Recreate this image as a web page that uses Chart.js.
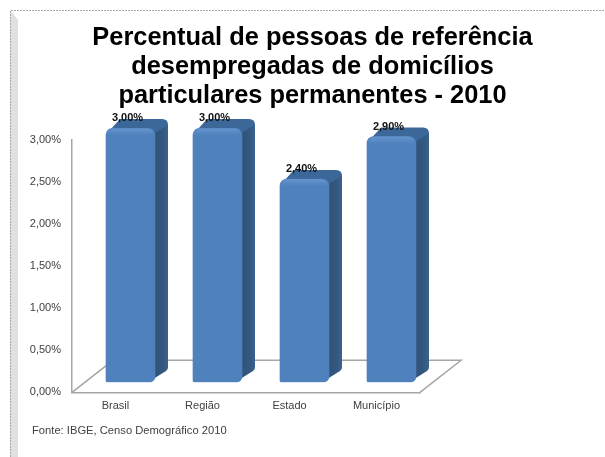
<!DOCTYPE html>
<html>
<head>
<meta charset="utf-8">
<title>Percentual de pessoas de referência</title>
<script src="https://cdn.jsdelivr.net/npm/chart.js@4"></script>
<style>
    html, body { margin: 0; padding: 0; background: #fff; }
    #wrap { width: 605px; height: 457px; }
</style>
</head>
<body>
<div id="wrap"><canvas id="chart" width="605" height="457"></canvas></div>
<script>
// Data
const categories = ['Brasil', 'Região', 'Estado', 'Município'];
const values = [3.0, 3.0, 2.4, 2.9];
const valueLabels = ['3,00%', '3,00%', '2,40%', '2,90%'];
const yTickLabels = ['0,00%', '0,50%', '1,00%', '1,50%', '2,00%', '2,50%', '3,00%'];
const titleLines = ['Percentual de pessoas de referência', 'desempregadas de domicílios', 'particulares permanentes - 2010'];
const sourceText = 'Fonte: IBGE, Censo Demográfico 2010';

const FONT = '"Liberation Sans", Arial, sans-serif';

// The 3D look: bars are pushed back into the floor, with a side and top face
const shiftX = 15;
const shiftY = -10;
const depthX = 13;
const depthY = -9;
const stretchY = 1.008; // perspective makes the bars a little taller than the axis

// slide frame behind everything
const framePlugin = {
    id: 'frame',
    beforeDraw(chart) {
        const ctx = chart.ctx;
        ctx.save();
        ctx.fillStyle = '#ffffff';
        ctx.fillRect(0, 0, 605, 457);
        ctx.fillStyle = '#e0e0e0';
        ctx.beginPath();
        ctx.moveTo(10, 10);
        ctx.lineTo(18, 20);
        ctx.lineTo(18, 457);
        ctx.lineTo(10, 457);
        ctx.closePath();
        ctx.fill();
        ctx.strokeStyle = '#a8a8a8';
        ctx.lineWidth = 1;
        ctx.setLineDash([2, 1]);
        ctx.beginPath();
        ctx.moveTo(10.5, 457);
        ctx.lineTo(10.5, 10.5);
        ctx.lineTo(605, 10.5);
        ctx.stroke();
        ctx.restore();
    }
};

// floor of the 3D chart
const floorPlugin = {
    id: 'floor',
    beforeDatasetsDraw(chart) {
        const ctx = chart.ctx;
        const a = chart.chartArea;
        ctx.save();
        ctx.strokeStyle = '#a6a6a6';
        ctx.lineWidth = 1.5;
        ctx.beginPath();
        ctx.moveTo(a.left, a.bottom);
        ctx.lineTo(a.left + 41, a.bottom - 32);
        ctx.lineTo(a.right + 41, a.bottom - 32);
        ctx.lineTo(a.right, a.bottom);
        ctx.stroke();
        ctx.restore();
    }
};

// side and top faces, then shift the context so the bars sit on the floor
const bars3dPlugin = {
    id: 'bars3d',
    beforeDatasetDraw(chart) {
        const ctx = chart.ctx;
        const meta = chart.getDatasetMeta(0);
        const bottom = chart.chartArea.bottom;
        ctx.save();
        ctx.translate(shiftX, shiftY + bottom);
        ctx.scale(1, stretchY);
        ctx.translate(0, -bottom);
        meta.data.forEach(bar => {
            const right = bar.x + bar.width / 2;
            const left = bar.x - bar.width / 2;
            const top = bar.y;
            const base = bar.base;

            const side = ctx.createLinearGradient(right - 4, 0, right + depthX, 0);
            side.addColorStop(0, '#2f5078');
            side.addColorStop(0.7, '#34587f');
            side.addColorStop(1, '#3a6290');
            ctx.fillStyle = side;
            ctx.beginPath();
            ctx.moveTo(right - 7, base);
            ctx.lineTo(right + depthX - 4, base + depthY - 1);
            ctx.quadraticCurveTo(right + depthX, base + depthY - 3, right + depthX, base + depthY - 6);
            ctx.lineTo(right + depthX, top + depthY + 5);
            ctx.lineTo(right - 6, top + 6);
            ctx.closePath();
            ctx.fill();

            ctx.fillStyle = '#3b6799';
            ctx.beginPath();
            ctx.moveTo(left + 2, top + 4);
            ctx.lineTo(left + depthX + 1, top + depthY);
            ctx.lineTo(right + depthX - 6, top + depthY);
            ctx.quadraticCurveTo(right + depthX, top + depthY, right + depthX, top + depthY + 6);
            ctx.lineTo(right - 2, top + 6);
            ctx.closePath();
            ctx.fill();
        });
    },
    afterDatasetDraw(chart) {
        const ctx = chart.ctx;
        const meta = chart.getDatasetMeta(0);
        meta.data.forEach((bar, i) => {
            // soft bevel along the top edge of the front face
            const x0 = bar.x - bar.width / 2;
            const bevel = ctx.createLinearGradient(0, bar.y, 0, bar.y + 7);
            bevel.addColorStop(0, 'rgba(120,165,220,0.55)');
            bevel.addColorStop(1, 'rgba(120,165,220,0)');
            ctx.fillStyle = bevel;
            ctx.beginPath();
            ctx.roundRect(x0 + 1, bar.y, bar.width - 2, 7, [7, 7, 0, 0]);
            ctx.fill();

            ctx.font = 'bold 11px ' + FONT;
            ctx.fillStyle = '#111111';
            ctx.textAlign = 'center';
            ctx.textBaseline = 'middle';
            ctx.fillText(valueLabels[i], bar.x - 3, bar.y - 10);
        });
        ctx.restore();
    }
};

// source note under the chart
const sourcePlugin = {
    id: 'source',
    afterDraw(chart) {
        const ctx = chart.ctx;
        ctx.save();
        ctx.font = '11.2px ' + FONT;
        ctx.fillStyle = '#404040';
        ctx.textBaseline = 'middle';
        ctx.fillText(sourceText, 32, 431);
        ctx.restore();
    }
};

// horizontal shading across the bar front
function barGradient(context) {
    const bar = context.element;
    if (!bar || !bar.width) {
        return '#4f81bd';
    }
    const x0 = bar.x - bar.width / 2;
    const g = context.chart.ctx.createLinearGradient(x0, 0, x0 + bar.width, 0);
    g.addColorStop(0, '#3f6ea6');
    g.addColorStop(0.06, '#4a7cb8');
    g.addColorStop(0.85, '#4f81bd');
    g.addColorStop(0.97, '#4375ae');
    g.addColorStop(1, '#3a6698');
    return g;
}

new Chart(document.getElementById('chart'), {
    type: 'bar',
    data: {
        labels: categories,
        datasets: [{
            data: values,
            backgroundColor: barGradient,
            barThickness: 49,
            borderRadius: { topLeft: 7, topRight: 7, bottomLeft: 2, bottomRight: 6 },
            borderSkipped: false
        }]
    },
    options: {
        responsive: false,
        animation: false,
        layout: { padding: { left: 20, right: 0, top: 0, bottom: 37.5 } },
        plugins: {
            legend: { display: false },
            tooltip: { enabled: false },
            title: {
                display: true,
                text: titleLines,
                color: '#000000',
                font: { family: FONT, size: 25.4, weight: 'bold', lineHeight: 1.157 },
                padding: { top: 23, bottom: 29 }
            }
        },
        scales: {
            x: {
                grid: { display: false, drawTicks: false },
                border: { color: '#a6a6a6', width: 1.5 },
                ticks: { color: '#404040', font: { family: FONT, size: 11 }, padding: 7, maxRotation: 0 }
            },
            y: {
                min: 0,
                max: 3,
                afterFit(scale) { scale.width = 52; },
                grid: { display: false, drawTicks: false },
                border: { color: '#a6a6a6', width: 1.5 },
                ticks: {
                    stepSize: 0.5,
                    color: '#404040',
                    font: { family: FONT, size: 11 },
                    padding: 11,
                    callback: (v, i) => yTickLabels[i]
                }
            },
            // empty axis, only keeps the white space right of the plot
            spacer: {
                position: 'right',
                afterFit(scale) { scale.width = 185; },
                grid: { display: false, drawTicks: false },
                border: { display: false },
                ticks: { display: false }
            }
        }
    },
    plugins: [framePlugin, floorPlugin, bars3dPlugin, sourcePlugin]
});
</script>
</body>
</html>
